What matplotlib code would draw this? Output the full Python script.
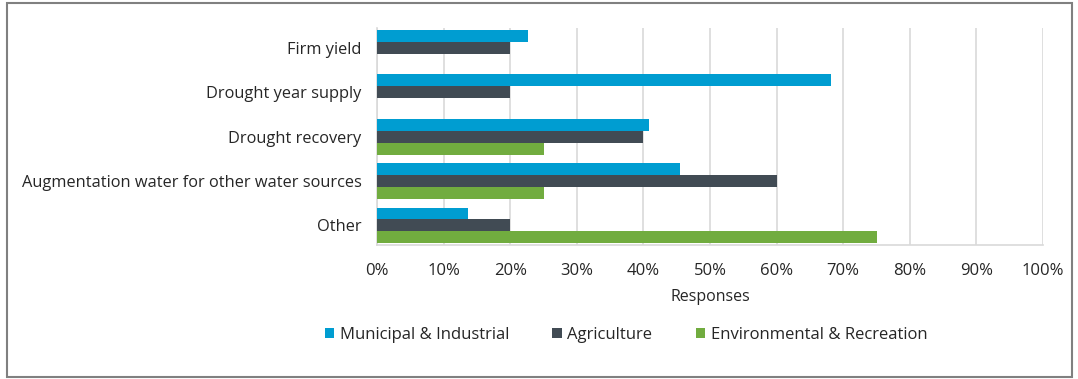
import numpy as np
import matplotlib
matplotlib.use("Agg")
import matplotlib.pyplot as plt
import matplotlib.patches as mpatches
from matplotlib.ticker import PercentFormatter, MultipleLocator

categories = ["Firm yield", "Drought year supply", "Drought recovery",
              "Augmentation water for other water sources", "Other"]
series = ["Municipal & Industrial", "Agriculture", "Environmental & Recreation"]
municipal = [22.7, 68.2, 40.9, 45.5, 13.6]
agriculture = [20, 20, 40, 60, 20]
environmental = [0, 0, 25, 25, 75]
colors = ["#009DD1", "#414B54", "#71AC3F"]

plt.rcParams["font.family"] = ["Open Sans", "DejaVu Sans"]
text_color = "#262626"

fig = plt.figure(figsize=(10.78, 3.79), dpi=100)
ax = fig.add_axes([377 / 1078, 1 - 245 / 379, 666 / 1078, 217 / 379])

y = np.arange(len(categories))
h = 0.27
for k, (vals, col) in enumerate(zip([municipal, agriculture, environmental], colors)):
    ax.barh(y + (k - 1) * h, vals, height=h, color=col, zorder=3)

ax.set_xlim(0, 100)
ax.set_ylim(len(categories) - 1 + 0.44, -0.45)
ax.xaxis.set_major_locator(MultipleLocator(10))
ax.xaxis.set_major_formatter(PercentFormatter(decimals=0))
ax.set_yticks(y)
ax.set_yticklabels(categories)
ax.grid(axis="x", color="#D9D9D9", linewidth=1.2, zorder=0)
for s in ["top", "right"]:
    ax.spines[s].set_visible(False)
ax.spines["left"].set_color("#D9D9D9")
ax.spines["bottom"].set_color("#D9D9D9")
ax.spines["left"].set_linewidth(1.2)
ax.spines["bottom"].set_linewidth(1.2)
ax.tick_params(length=0, colors=text_color)
ax.tick_params(axis="x", labelsize=12, pad=13)
ax.tick_params(axis="y", labelsize=11.8, pad=11)
ax.set_xlabel("Responses", fontsize=11.5, color=text_color, labelpad=7)

handles = [mpatches.Patch(facecolor=c, label=s) for c, s in zip(colors, series)]
fig.legend(handles=handles, loc="center", bbox_to_anchor=(626 / 1078, 1 - 335 / 379),
           ncol=3, frameon=False, fontsize=12, handlelength=0.55, handleheight=0.55,
           handletextpad=0.35, columnspacing=2.6, labelcolor=text_color)

fig.add_artist(mpatches.Rectangle((7 / 1078, 2 / 379), 1065 / 1078, 374 / 379,
                                  transform=fig.transFigure, fill=False,
                                  edgecolor="#808080", linewidth=1.5))

fig.savefig("out.png", dpi=100)
